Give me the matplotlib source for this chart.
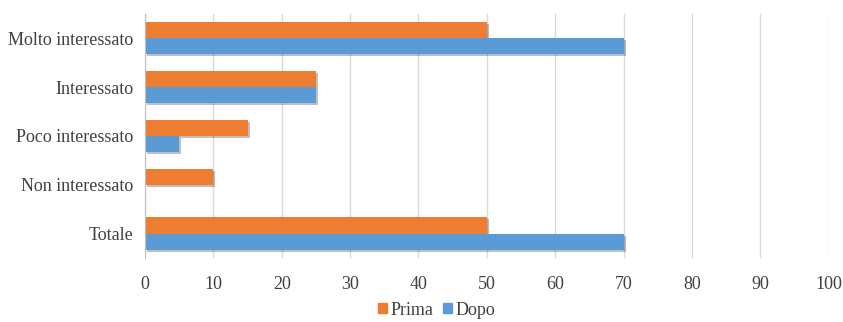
import matplotlib.pyplot as plt
import matplotlib.patheffects as pe
from matplotlib.patches import Patch
import numpy as np

categories = ["Molto interessato", "Interessato", "Poco interessato", "Non interessato", "Totale"]
prima = [50, 25, 15, 10, 50]
dopo = [70, 25, 5, 0, 70]

plt.rcParams['font.family'] = ['Liberation Serif', 'DejaVu Serif']

fig = plt.figure(figsize=(8.43, 3.22), dpi=100)
ax = fig.add_axes([0.172, 0.199, 0.811, 0.758])

y = np.arange(len(categories))
h = 0.33
shadow = [pe.SimplePatchShadow(offset=(1.5, -1.5), alpha=0.3), pe.Normal()]
ax.barh(y - h / 2, prima, height=h, color="#ED7D31", path_effects=shadow)
ax.barh(y + h / 2, dopo, height=h, color="#5B9BD5", path_effects=shadow)

ax.set_ylim(len(categories) - 0.5, -0.5)
ax.set_xlim(0, 100)
ax.set_xticks(range(0, 101, 10))
ax.set_yticks(y)
ax.set_yticklabels(categories)
ax.tick_params(axis="both", length=0, labelsize=13, colors="#404040")
ax.tick_params(axis="x", pad=13)
ax.tick_params(axis="y", pad=8.5)
ax.grid(axis="x", color="#d9d9d9", linewidth=1)
ax.set_axisbelow(True)
for s in ["top", "right", "bottom"]:
    ax.spines[s].set_visible(False)
ax.spines["left"].set_color("#bfbfbf")

handles = [Patch(color="#ED7D31", label="Prima"), Patch(color="#5B9BD5", label="Dopo")]
fig.legend(handles=handles, loc="lower center", bbox_to_anchor=(0.518, -0.04), ncol=2,
           frameon=False, fontsize=13, handlelength=0.5, handleheight=0.5,
           handletextpad=0.2, columnspacing=0.5, labelcolor="#404040")

fig.savefig("out.png", dpi=100)
